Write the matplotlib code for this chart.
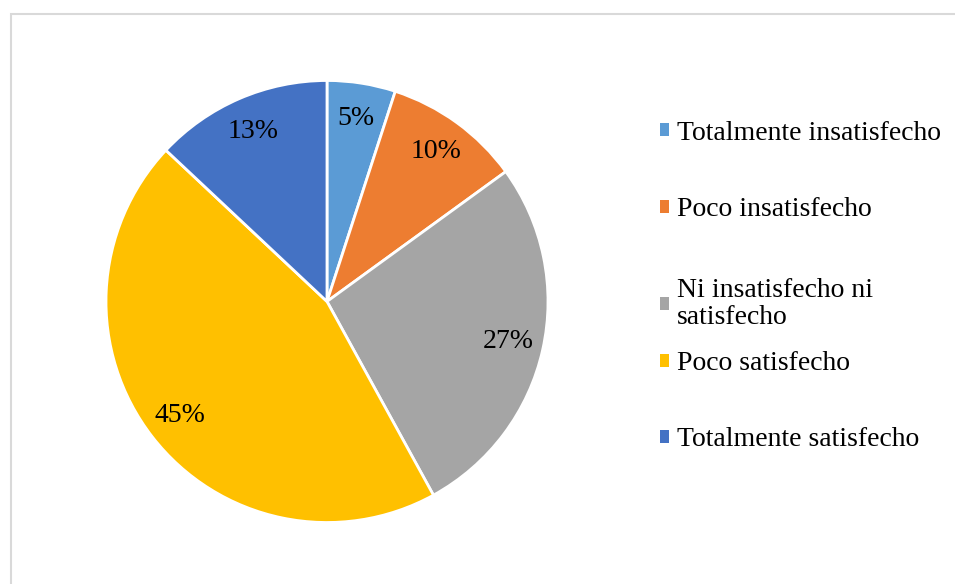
import matplotlib.pyplot as plt
from matplotlib.patches import Rectangle

# survey answers, percent of respondents
categories = ['Totalmente insatisfecho', 'Poco insatisfecho',
              'Ni insatisfecho ni\nsatisfecho', 'Poco satisfecho',
              'Totalmente satisfecho']
shares = [5, 10, 27, 45, 13]
colors = ['#5b9bd5', '#ed7d31', '#a5a5a5', '#ffc000', '#4472c4']

plt.rcParams['font.family'] = ['Liberation Serif', 'DejaVu Serif']
FS = 20

W, H = 955, 584
fig = plt.figure(figsize=(W / 100, H / 100), dpi=100)

# light grey chart frame (runs off the right and bottom edges)
fig.patches.append(Rectangle((11 / W, -0.05), 1.0, 1 - 14 / H + 0.05,
                             transform=fig.transFigure, fill=False,
                             edgecolor='#d9d9d9', linewidth=1.5))

cx, cy, r = 327, 301.5, 221
ax = fig.add_axes([(cx - r) / W, (H - cy - r) / H, 2 * r / W, 2 * r / H])
wedges, _, autotexts = ax.pie(shares, colors=colors, startangle=90,
                              counterclock=False, radius=1,
                              autopct='%1.0f%%', pctdistance=0.84,
                              wedgeprops=dict(edgecolor='white', linewidth=2),
                              textprops=dict(fontsize=FS, color='#000000'))
ax.set_xlim(-1, 1)
ax.set_ylim(-1, 1)
ax.set_aspect('equal')
ax.axis('off')

# one legend per entry so the vertical slots can be placed freely
legend_y = [133, 210, 304, 364, 440]
for w, label, y in zip(wedges, categories, legend_y):
    leg = fig.legend([w], [label], loc='center left',
                     bbox_to_anchor=(660 / W, 1 - y / H),
                     frameon=False, fontsize=FS, handlelength=0.33,
                     handleheight=0.33, handletextpad=0.28, borderpad=0,
                     borderaxespad=0)
    for h in leg.legend_handles:
        h.set_edgecolor('none')
    for t in leg.get_texts():
        t.set_linespacing(1.1)

fig.savefig('out.png', dpi=100)
